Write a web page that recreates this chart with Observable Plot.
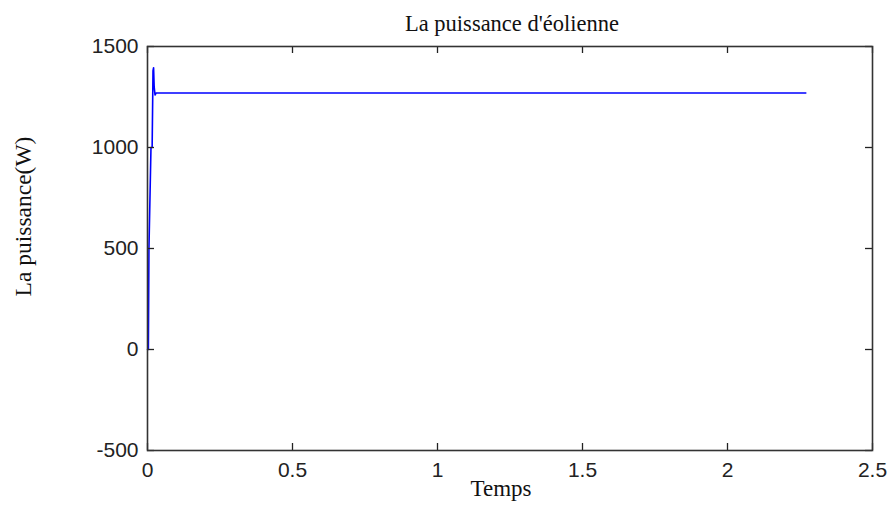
<!DOCTYPE html>
<html>
<head>
<meta charset="utf-8">
<script src="https://cdn.jsdelivr.net/npm/d3@7"></script>
<script src="https://cdn.jsdelivr.net/npm/@observablehq/plot@0.6"></script>
<style>
  html, body { margin: 0; padding: 0; background: #fff; }
</style>
</head>
<body>
<div id="chart"></div>
<script>
const titleText = "La puissance d'éolienne";
const xLabel = "Temps";
const yLabel = "La puissance(W)";

const time  = [0, 0.003, 0.005, 0.012, 0.016, 0.019, 0.021, 0.023, 0.026, 0.03, 0.2, 1.0, 2.27];
const power = [0, 0,     500,   1000,  1000,  1380,  1395,  1300,  1260,  1270, 1270, 1270, 1270];

const xTicks = [0, 0.5, 1, 1.5, 2, 2.5];
const yTicks = [-500, 0, 500, 1000, 1500];

const data = time.map((t, i) => ({t, p: power[i]}));

const W = 890, H = 508;
const mL = 147, mR = 18, mT = 46, mB = 58;
const pw = W - mL - mR, ph = H - mT - mB;
const tick = 7;
const sans = "'Liberation Sans', Arial, sans-serif";
const serif = "'Liberation Serif', 'Times New Roman', serif";
const fmt = d => String(d);

const chart = Plot.plot({
  width: W, height: H,
  marginLeft: mL, marginRight: mR, marginTop: mT, marginBottom: mB,
  style: {background: "#fff", fontFamily: sans, color: "#222"},
  x: {domain: [0, 2.5]},
  y: {domain: [-500, 1500]},
  marks: [
    Plot.line(data, {x: "t", y: "p", stroke: "#0000ff", strokeWidth: 1.6}),
    Plot.tickX(xTicks, {x: d => d, stroke: "#222", strokeWidth: 1.3, insetTop: ph - tick}),
    Plot.tickX(xTicks, {x: d => d, stroke: "#222", strokeWidth: 1.3, insetBottom: ph - tick}),
    Plot.tickY(yTicks, {y: d => d, stroke: "#222", strokeWidth: 1.3, insetRight: pw - tick}),
    Plot.tickY(yTicks, {y: d => d, stroke: "#222", strokeWidth: 1.3, insetLeft: pw - tick}),
    Plot.frame({stroke: "#333", strokeWidth: 1.6}),
    Plot.axisX({ticks: xTicks, tickFormat: fmt, tickSize: 0, tickPadding: 12, label: null, fontSize: 21, fontFamily: sans, fill: "#222", textAnchor: "middle", lineAnchor: "top"}),
    Plot.axisY({ticks: yTicks, tickFormat: fmt, tickSize: 0, tickPadding: 9, label: null, fontSize: 21, fontFamily: sans, fill: "#222"}),
    Plot.text([titleText], {frameAnchor: "top", dy: -31, dx: 2, fontSize: 22.5, fontFamily: serif, fill: "#111"}),
    Plot.text([xLabel], {frameAnchor: "bottom", dy: 45, dx: -9, fontSize: 23, fontFamily: serif, fill: "#111"}),
    Plot.text([yLabel], {frameAnchor: "left", textAnchor: "middle", dx: -124, dy: -32, rotate: -90, fontSize: 23.5, fontFamily: serif, fill: "#111"})
  ]
});
document.getElementById("chart").appendChild(chart);
</script>
</body>
</html>
